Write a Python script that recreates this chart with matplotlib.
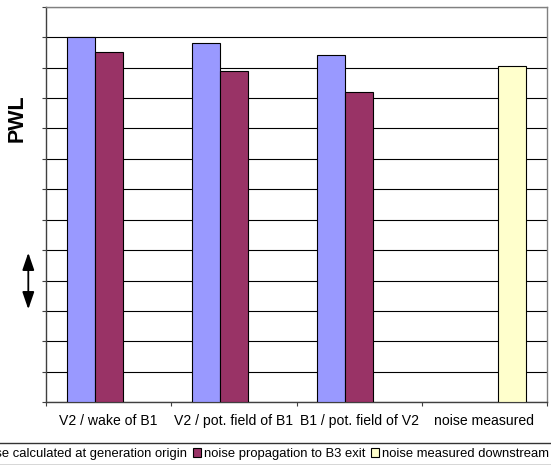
import numpy as np
import matplotlib.pyplot as plt
from matplotlib.patches import Patch

plt.rcParams['font.family'] = ['Liberation Sans', 'DejaVu Sans']

categories = ['V2 / wake of B1', 'V2 / pot. field of B1', 'B1 / pot. field of V2', 'noise measured']
series_names = ['noise calculated at generation origin', 'noise propagation to B3 exit',
                'noise measured downstream']
calc_origin = [12.0, 11.8, 11.4, np.nan]
prop_b3 = [11.5, 10.9, 10.2, np.nan]
measured = [np.nan, np.nan, np.nan, 11.05]
colors = ['#9999FF', '#993366', '#FFFFCC']

fig = plt.figure(figsize=(5.51, 4.65), dpi=100)
ax = fig.add_axes([46 / 551, 1 - 402.3 / 465, 501 / 551, 395.6 / 465])

x = np.arange(len(categories))
w = 0.224
for i, (vals, c) in enumerate(zip([calc_origin, prop_b3, measured], colors)):
    ax.bar(x + (i - 1) * w, vals, w, color=c, edgecolor='black', linewidth=0.8, zorder=3)

ax.set_xlim(-0.5, 3.5)
ax.set_ylim(0, 13)
ax.set_yticks(np.arange(0, 14))
ax.set_yticklabels([])
ax.yaxis.grid(True, color='black', linewidth=0.8, zorder=0)
ax.tick_params(axis='y', direction='out', length=3, width=0.8, color='#404040')

ax.set_xticks(np.arange(-0.5, 4.0, 1.0))
ax.set_xticklabels([])
ax.set_xticks(x, minor=True)
ax.set_xticklabels(categories, minor=True, fontsize=10.1)
ax.tick_params(axis='x', which='major', direction='out', length=3, width=0.8, color='#404040')
ax.tick_params(axis='x', which='minor', length=0, pad=8.5)

for s in ['left', 'bottom']:
    ax.spines[s].set_color('#404040')
    ax.spines[s].set_linewidth(1.0)
for s in ['top', 'right']:
    ax.spines[s].set_color('#808080')
    ax.spines[s].set_linewidth(1.0)

fig.text(17 / 551, 1 - 118 / 465, 'PWL', rotation=90, fontsize=15.5, fontweight='bold',
         ha='center', va='center')

# double-headed arrow left of the axis
ax.annotate('', xy=(28.3, 465 - 309.3), xytext=(28.3, 465 - 252.7),
            xycoords='figure pixels', textcoords='figure pixels',
            arrowprops=dict(arrowstyle='<|-|>,head_length=1.05,head_width=0.36',
                            color='black', lw=1.3, shrinkA=0, shrinkB=0))

# legend runs past the left edge of the figure
handles = [Patch(facecolor=c, edgecolor='black', linewidth=0.8) for c in colors]
leg = fig.legend(handles, series_names, loc='center right', bbox_to_anchor=(1.004, 1 - 454 / 465),
                 ncol=3, fontsize=9.35, frameon=True, fancybox=False, handlelength=0.6,
                 handleheight=0.6, handletextpad=0.22, columnspacing=0.45, borderpad=0.35,
                 borderaxespad=0)
leg.get_frame().set_edgecolor('black')
leg.get_frame().set_linewidth(1.0)

fig.savefig('out.png', dpi=100)
